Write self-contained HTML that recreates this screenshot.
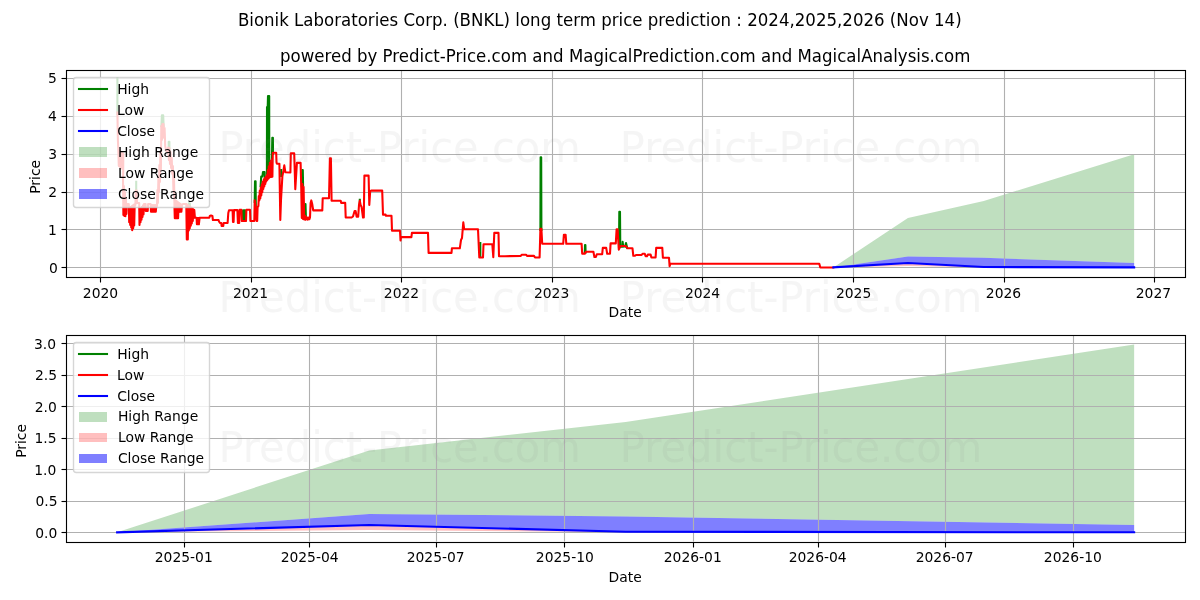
<!DOCTYPE html>
<html lang="en"><head><meta charset="utf-8">
<title>Bionik Laboratories Corp. (BNKL) long term price prediction</title>
<style>
html,body{margin:0;padding:0;background:#fff;}
body{width:1200px;height:600px;overflow:hidden;}
svg{display:block;}
text{font-family:"DejaVu Sans", "Liberation Sans", sans-serif;fill:#000;}
.t10 text{font-size:13.89px;}
.t12 text{font-size:17px;}
.wm text{font-size:43px;fill:#808080;fill-opacity:0.08;stroke:none;}
.grid line{stroke:#b0b0b0;stroke-width:1.11;}
.tick line{stroke:#000;stroke-width:1.11;}
.spine{fill:none;stroke:#000;stroke-width:1.11;stroke-linejoin:miter;stroke-linecap:square;}
.ln{fill:none;stroke-width:2.08;stroke-linejoin:round;stroke-linecap:square;}
.hi{stroke:#008000;}.lo{stroke:#ff0000;}.cl{stroke:#0000ff;}
.fhi{fill:#008000;fill-opacity:0.25;}.flo{fill:#ff0000;fill-opacity:0.25;}.fcl{fill:#0000ff;fill-opacity:0.5;}
.legbox{fill:#fff;fill-opacity:0.8;stroke:#ccc;stroke-opacity:0.8;stroke-width:1.3889;}
</style></head><body>
<svg width="1200" height="600" viewBox="0 0 1200 600">
<rect width="1200" height="600" fill="#fff"/>
<g id="axes1">
<clipPath id="clip1"><rect x="66.28" y="70.33" width="1118.72" height="206.56"/></clipPath>
<g clip-path="url(#clip1)">
<polygon class="fhi" points="833.33,267.4 907.92,256.4 983.74,257.84 1134.15,263 1134.15,154.31 983.74,200.99 907.92,218.07 833.33,267.4"/>
<polygon class="flo" points="833.33,267.4 907.92,266 983.74,267.4 1134.15,267.4 1134.15,267.4 983.74,267.02 907.92,263 833.33,267.4"/>
<polygon class="fcl" points="833.33,267.4 907.92,263 983.74,267.02 1134.15,267.4 1134.15,263 983.74,257.84 907.92,256.4 833.33,267.4"/>
<g class="grid">
<line x1="100.5" y1="70.33" x2="100.5" y2="276.89"/>
<line x1="251.5" y1="70.33" x2="251.5" y2="276.89"/>
<line x1="401.5" y1="70.33" x2="401.5" y2="276.89"/>
<line x1="552.5" y1="70.33" x2="552.5" y2="276.89"/>
<line x1="702.5" y1="70.33" x2="702.5" y2="276.89"/>
<line x1="853.5" y1="70.33" x2="853.5" y2="276.89"/>
<line x1="1004.5" y1="70.33" x2="1004.5" y2="276.89"/>
<line x1="1154.5" y1="70.33" x2="1154.5" y2="276.89"/>
<line x1="66.28" y1="267.5" x2="1185" y2="267.5"/>
<line x1="66.28" y1="229.5" x2="1185" y2="229.5"/>
<line x1="66.28" y1="192.5" x2="1185" y2="192.5"/>
<line x1="66.28" y1="154.5" x2="1185" y2="154.5"/>
<line x1="66.28" y1="116.5" x2="1185" y2="116.5"/>
<line x1="66.28" y1="78.5" x2="1185" y2="78.5"/>
</g>
<polyline class="ln hi" points="117.4,78.5 117.4,114"/>
<polyline class="ln hi" points="136.2,181.7 136.2,192"/>
<polyline class="ln hi" points="161.4,126 161.9,115.2 163.2,115.2 163.6,126"/>
<polyline class="ln hi" points="168.7,150 168.7,141.7 169.4,141.7 169.4,150"/>
<polyline class="ln hi" points="188.6,210 188.8,203.2 189.8,203.2 190,210"/>
<polyline class="ln hi" points="242.6,221 243.1,210.3 243.6,219 244.1,210.3 244.6,219 245,210.3 245.3,221"/>
<polyline class="ln hi" points="254.7,202 255,181.3 255.6,181.3 255.9,216"/>
<polyline class="ln hi" points="260.6,186 261.2,176.5 262.4,176.5 263,172 264.6,172 264.8,178"/>
<polyline class="ln hi" points="266.9,176 267,107 267.7,107 268,96 269.2,96 269.3,176"/>
<polyline class="ln hi" points="267.6,176 267.6,108"/>
<polyline class="ln hi" points="268.6,176 268.6,97"/>
<polyline class="ln hi" points="271.9,160 272.3,137.8 272.9,137.8 273,154"/>
<polyline class="ln hi" points="281.2,176 281.2,170"/>
<polyline class="ln hi" points="301.9,186 302.3,170 302.8,170 303.1,186"/>
<polyline class="ln hi" points="305.3,217 305.5,204 305.9,217"/>
<polyline class="ln hi" points="359.8,203 359.8,199.8"/>
<polyline class="ln hi" points="480.3,257 480.3,243"/>
<polyline class="ln hi" points="540.4,230 540.6,157.2 541.2,157.2 541.4,230"/>
<polyline class="ln hi" points="584.8,252.5 585,245 585.4,245 585.6,252.5"/>
<polyline class="ln hi" points="619,247 619.3,211.8 620,211.8 620.3,247"/>
<polyline class="ln hi" points="622,246.5 622.6,241.7 623.2,246.5"/>
<polyline class="ln hi" points="625.2,246.5 626,243 627.2,248"/>
<polyline class="ln lo" points="117.4,112.5 117.9,140 118.4,152 118.8,166 119.3,150.42 119.8,166.83 120.3,151.25 120.8,167.67 121.3,152.08 121.8,168.5 122.3,152.92 122.8,169.33 123.3,153.75 123.2,172 123,180 123.4,215 123.9,186 124.4,216 124.9,192 125.4,216.3 125.9,198 126.4,214 126.8,204 128.8,204 129.2,222.27 129.7,207.66 130.2,224.92 130.7,206.97 131.2,227.58 131.7,206.28 132.2,230.23 132.7,205.59 133.2,228.11 133.7,204.9 134.2,225.45 134.7,204.21 135.4,205 135.8,190.5 136.6,190.5 137,203 136.6,203 139.2,203 139.5,225 140,209.33 140.5,222.33 141,208 141.5,219.67 142,206.67 142.5,217 143,205.33 143.5,214.33 144,204 144.5,204 145.6,204 145.8,211 147.7,211 148.1,204 150.6,204 151,211.7 151.6,205 152.2,211.7 152.8,205 153.4,211.7 154,205 154.6,211.7 155.2,205 155.8,211.7 156.4,205 157,206 157.4,190 157.9,203 158.4,178 158.9,192 159.4,165 159.9,182 160.4,152 160.9,170 161.3,126 161.9,140 162.4,124 163,136 163.5,124 164.1,138 164.6,128 165.2,146 166,150 167,152 167.8,150 168.3,147.5 168.9,160 169.4,148 170,164 170.5,152 171.1,168 171.7,158 172.3,174 172.9,166 173.4,190 174,178 174.5,208 174.8,218.3 175.35,200.38 175.9,218.3 176.45,201.15 177,218.3 177.55,201.91 178.1,218.3 178.65,202.67 179.2,211.94 179.75,203.44 180.3,211.77 180.85,204.2 181.4,211.59 181.95,204.97 183,204 185.8,204 186.3,204 186.8,239.5 187.3,204.75 187.8,239.5 188.3,205.5 188.8,230.56 189.3,206.25 189.8,228.16 190.3,207 190.8,225.76 191.3,207.75 191.8,223.36 192.3,208.5 192.8,220.96 193.3,209.25 193.8,218 194.3,210 194.9,217.7 196.6,217.7 196.9,224.3 197.4,218 197.9,224.3 198.4,218 198.9,224.3 199.6,217.7 209.3,217.7 209.8,216 211,215.5 212.4,216 212.9,220 218.6,220 219,221.5 220,223 221.3,223 221.6,226 223.3,226 223.6,223 227.6,223 228.3,213 229,210.3 232.6,210.3 233,222 233.6,222 234,210.1 237.4,210.1 237.9,223 239.2,223 239.6,209.8 241.4,209.8 241.8,221 246,221 246.4,209.7 250,209.7 250.4,221 254.3,221 254.7,200.3 255.4,205 256,216 256.6,221 257.2,221 257.6,207 258.4,206 258.8,196 259.3,200.38 259.8,190.58 260.3,198.55 260.8,187.2 261.3,195.36 261.8,184.32 262.3,192.18 262.8,181.44 263.3,189 263.8,179.34 264.3,186.5 264.8,178.01 265.3,184 265.8,176.69 266.3,181.5 266.8,175 267.3,179.86 267.8,170 268.3,178.8 268.8,166.2 269.3,177.74 269.8,162.7 270.3,177 270.8,160.8 271.3,177 271.8,159.3 272.4,176.7 272.8,152.8 276.2,152.8 276.5,162.3 276.8,163.6 279.4,163.8 280.3,220 281,200 282.4,176 283.4,171 284.3,165.3 285.4,172.3 290.4,172.5 290.8,153.2 294.2,153.2 295.3,189.3 296.9,162.9 300.6,162.9 301.2,186 301.8,218 302.4,184 303,219 303.6,187 304.2,219.5 304.9,215.5 305.7,219.7 306.7,217.2 307.7,219.7 308.7,217.5 309.4,219.2 310,217.5 310.6,203 311.3,200.4 312.2,204 313.2,210.4 322.3,210.4 322.7,198.3 329,198.3 329.9,158.2 330.9,158.2 331.6,200.8 340.7,200.8 341.2,202.9 345.2,202.9 345.7,217.5 351.6,217.5 353,216.5 354.6,211 355.6,211 356.6,216.6 358.2,216.6 359,205 359.8,200.8 360.6,205 361.6,207 363,217.5 363.8,217.5 364.4,175.6 368.6,175.6 369.3,205 370.2,191 371.2,190.6 382.2,190.6 383,214.6 385.6,214.6 386,215.8 391.5,215.8 392,230.8 400,230.8 400.5,240.5 401,237.1 411.4,237.1 411.9,232.9 428,232.9 428.6,252.9 451.5,252.9 451.9,248.3 459.8,248.3 461,240 462,238 463.3,222.3 464.2,229.2 478,229.2 479.3,257.5 483,257.5 483.5,244.2 492.3,244.2 493.3,257.1 494.3,232.9 498.5,232.9 499,256.3 505,256.2 520.8,255.9 521.8,254.7 526,254.7 527,255.9 534,255.9 535,257.5 539.6,257.5 540.4,228.8 541.4,228.8 542.2,243.8 563.2,243.8 563.9,234.7 565.6,234.7 566.3,243.8 581.6,243.8 582.2,253.6 585,253.6 585.8,251.8 593.4,251.8 594.4,257 595.9,257 596.8,254.2 602.2,254.2 602.8,247.9 606.2,247.9 607.2,253.8 610,253.8 610.6,243.4 615.8,243.4 616.6,229.3 617.6,229.3 618.8,249.6 620.5,246 625.6,246 627.6,248.3 632.5,248.3 633.3,255.8 635,255.8 636,255 641.6,255 642.5,253.8 644.8,253.8 645.6,256.2 647,256.2 647.8,254.6 650.6,254.6 651.4,257.5 655.6,257.5 656.2,247.9 662.3,247.9 662.9,257.7 669,257.7 669.6,266.2 670.4,263.75 819.3,263.75 820.3,267.5 833.3,267.5"/>
<polyline class="ln cl" points="833.33,267.4 907.92,263 983.74,267.02 1134.15,267.4"/>
</g>
<g class="tick">
<line x1="100.5" y1="277.5" x2="100.5" y2="282.5"/>
<line x1="251.5" y1="277.5" x2="251.5" y2="282.5"/>
<line x1="401.5" y1="277.5" x2="401.5" y2="282.5"/>
<line x1="552.5" y1="277.5" x2="552.5" y2="282.5"/>
<line x1="702.5" y1="277.5" x2="702.5" y2="282.5"/>
<line x1="853.5" y1="277.5" x2="853.5" y2="282.5"/>
<line x1="1004.5" y1="277.5" x2="1004.5" y2="282.5"/>
<line x1="1154.5" y1="277.5" x2="1154.5" y2="282.5"/>
<line x1="61.5" y1="267.5" x2="66.5" y2="267.5"/>
<line x1="61.5" y1="229.5" x2="66.5" y2="229.5"/>
<line x1="61.5" y1="192.5" x2="66.5" y2="192.5"/>
<line x1="61.5" y1="154.5" x2="66.5" y2="154.5"/>
<line x1="61.5" y1="116.5" x2="66.5" y2="116.5"/>
<line x1="61.5" y1="78.5" x2="66.5" y2="78.5"/>
</g>
<rect class="spine" x="66.5" y="70.5" width="1119" height="207"/>
<g class="t10">
<text x="100.48" y="297.61" text-anchor="middle">2020</text>
<text x="250.56" y="297.61" text-anchor="middle">2021</text>
<text x="401.47" y="297.61" text-anchor="middle">2022</text>
<text x="551.63" y="297.61" text-anchor="middle">2023</text>
<text x="702.54" y="297.61" text-anchor="middle">2024</text>
<text x="853.61" y="297.61" text-anchor="middle">2025</text>
<text x="1003.52" y="297.61" text-anchor="middle">2026</text>
<text x="1153.43" y="297.61" text-anchor="middle">2027</text>
<text x="57.81" y="272.9" text-anchor="end">0</text>
<text x="56.81" y="234.95" text-anchor="end">1</text>
<text x="57.06" y="197" text-anchor="end">2</text>
<text x="57.06" y="159.05" text-anchor="end">3</text>
<text x="56.81" y="120.6" text-anchor="end">4</text>
<text x="56.81" y="82.65" text-anchor="end">5</text>
<text x="625.14" y="316.67" text-anchor="middle">Date</text>
<text transform="translate(39.63 176.86) rotate(-90)" text-anchor="middle">Price</text>
</g>
<g class="t10 leg">
<rect class="legbox" x="73.5" y="77.5" width="136" height="130" rx="2.78" ry="2.78"/>
<line class="ln hi" x1="79" y1="89" x2="107" y2="89"/>
<text x="117.17" y="93.83">High</text>
<line class="ln lo" x1="79" y1="110" x2="107" y2="110"/>
<text x="116.92" y="114.78">Low</text>
<line class="ln cl" x1="79" y1="131" x2="107" y2="131"/>
<text x="117.17" y="135.72">Close</text>
<rect class="fhi" x="79" y="147" width="28" height="10"/>
<text x="117.92" y="156.67">High Range</text>
<rect class="flo" x="79" y="168" width="28" height="10"/>
<text x="117.92" y="177.61">Low Range</text>
<rect class="fcl" x="79" y="189" width="28" height="10"/>
<text x="117.92" y="198.56">Close Range</text>
</g>
</g>
<g id="axes2">
<clipPath id="clip2"><rect x="66.28" y="335.17" width="1118.72" height="206.56"/></clipPath>
<g clip-path="url(#clip2)">
<polygon class="fhi" points="117.13,532.33 369.29,514.06 625.64,516.45 1134.15,525.02 1134.15,344.56 625.64,422.06 369.29,450.42 117.13,532.33"/>
<polygon class="flo" points="117.13,532.33 369.29,530 625.64,532.33 1134.15,532.33 1134.15,532.33 625.64,531.7 369.29,525.02 117.13,532.33"/>
<polygon class="fcl" points="117.13,532.33 369.29,525.02 625.64,531.7 1134.15,532.33 1134.15,525.02 625.64,516.45 369.29,514.06 117.13,532.33"/>
<g class="grid">
<line x1="184.5" y1="335.17" x2="184.5" y2="541.72"/>
<line x1="309.5" y1="335.17" x2="309.5" y2="541.72"/>
<line x1="436.5" y1="335.17" x2="436.5" y2="541.72"/>
<line x1="564.5" y1="335.17" x2="564.5" y2="541.72"/>
<line x1="693.5" y1="335.17" x2="693.5" y2="541.72"/>
<line x1="818.5" y1="335.17" x2="818.5" y2="541.72"/>
<line x1="945.5" y1="335.17" x2="945.5" y2="541.72"/>
<line x1="1073.5" y1="335.17" x2="1073.5" y2="541.72"/>
<line x1="66.28" y1="532.5" x2="1185" y2="532.5"/>
<line x1="66.28" y1="501.5" x2="1185" y2="501.5"/>
<line x1="66.28" y1="469.5" x2="1185" y2="469.5"/>
<line x1="66.28" y1="438.5" x2="1185" y2="438.5"/>
<line x1="66.28" y1="406.5" x2="1185" y2="406.5"/>
<line x1="66.28" y1="375.5" x2="1185" y2="375.5"/>
<line x1="66.28" y1="343.5" x2="1185" y2="343.5"/>
</g>
<polyline class="ln cl" points="117.13,532.33 369.29,525.02 625.64,531.7 1134.15,532.33"/>
</g>
<g class="tick">
<line x1="184.5" y1="542.5" x2="184.5" y2="547.5"/>
<line x1="309.5" y1="542.5" x2="309.5" y2="547.5"/>
<line x1="436.5" y1="542.5" x2="436.5" y2="547.5"/>
<line x1="564.5" y1="542.5" x2="564.5" y2="547.5"/>
<line x1="693.5" y1="542.5" x2="693.5" y2="547.5"/>
<line x1="818.5" y1="542.5" x2="818.5" y2="547.5"/>
<line x1="945.5" y1="542.5" x2="945.5" y2="547.5"/>
<line x1="1073.5" y1="542.5" x2="1073.5" y2="547.5"/>
<line x1="61.5" y1="532.5" x2="66.5" y2="532.5"/>
<line x1="61.5" y1="501.5" x2="66.5" y2="501.5"/>
<line x1="61.5" y1="469.5" x2="66.5" y2="469.5"/>
<line x1="61.5" y1="438.5" x2="66.5" y2="438.5"/>
<line x1="61.5" y1="406.5" x2="66.5" y2="406.5"/>
<line x1="61.5" y1="375.5" x2="66.5" y2="375.5"/>
<line x1="61.5" y1="343.5" x2="66.5" y2="343.5"/>
</g>
<rect class="spine" x="66.5" y="335.5" width="1119" height="207"/>
<g class="t10">
<text x="183.75" y="561.94" text-anchor="middle">2025-01</text>
<text x="309.64" y="561.94" text-anchor="middle">2025-04</text>
<text x="435.67" y="561.94" text-anchor="middle">2025-07</text>
<text x="564.84" y="561.94" text-anchor="middle">2025-10</text>
<text x="692.76" y="561.94" text-anchor="middle">2026-01</text>
<text x="817.65" y="561.94" text-anchor="middle">2026-04</text>
<text x="944.68" y="562.44" text-anchor="middle">2026-07</text>
<text x="1072.85" y="562.44" text-anchor="middle">2026-10</text>
<text x="57.31" y="537.83" text-anchor="end">0.0</text>
<text x="57.56" y="505.83" text-anchor="end">0.5</text>
<text x="56.31" y="474.82" text-anchor="end">1.0</text>
<text x="56.56" y="443.31" text-anchor="end">1.5</text>
<text x="56.81" y="411.81" text-anchor="end">2.0</text>
<text x="57.06" y="379.8" text-anchor="end">2.5</text>
<text x="56.06" y="348.8" text-anchor="end">3.0</text>
<text x="625.14" y="581.5" text-anchor="middle">Date</text>
<text transform="translate(25.5 440.94) rotate(-90)" text-anchor="middle">Price</text>
</g>
<g class="t10 leg">
<rect class="legbox" x="73.5" y="342.5" width="136" height="130" rx="2.78" ry="2.78"/>
<line class="ln hi" x1="79" y1="354" x2="107" y2="354"/>
<text x="117.17" y="358.67">High</text>
<line class="ln lo" x1="79" y1="375" x2="107" y2="375"/>
<text x="116.92" y="379.61">Low</text>
<line class="ln cl" x1="79" y1="396" x2="107" y2="396"/>
<text x="117.17" y="400.56">Close</text>
<rect class="fhi" x="79" y="412" width="28" height="10"/>
<text x="117.92" y="420.5">High Range</text>
<rect class="flo" x="79" y="433" width="28" height="9"/>
<text x="117.92" y="441.94">Low Range</text>
<rect class="fcl" x="79" y="454" width="28" height="9"/>
<text x="117.92" y="462.89">Close Range</text>
</g>
</g>
<g class="t12">
<text x="237.88" y="25.5" textLength="723.75" lengthAdjust="spacingAndGlyphs">Bionik Laboratories Corp. (BNKL) long term price prediction : 2024,2025,2026 (Nov 14)</text>
<text x="279.95" y="61.5" textLength="690.38" lengthAdjust="spacingAndGlyphs">powered by Predict-Price.com and MagicalPrediction.com and MagicalAnalysis.com</text>
</g>
<g class="wm">
<text x="218.46" y="162" textLength="362.48" lengthAdjust="spacingAndGlyphs">Predict-Price.com</text>
<text x="619.86" y="162" textLength="362.48" lengthAdjust="spacingAndGlyphs">Predict-Price.com</text>
<text x="218.46" y="312" textLength="362.48" lengthAdjust="spacingAndGlyphs">Predict-Price.com</text>
<text x="619.86" y="312" textLength="362.48" lengthAdjust="spacingAndGlyphs">Predict-Price.com</text>
<text x="218.46" y="462" textLength="362.48" lengthAdjust="spacingAndGlyphs">Predict-Price.com</text>
<text x="619.86" y="462" textLength="362.48" lengthAdjust="spacingAndGlyphs">Predict-Price.com</text>
</g>
</svg>
</body></html>
